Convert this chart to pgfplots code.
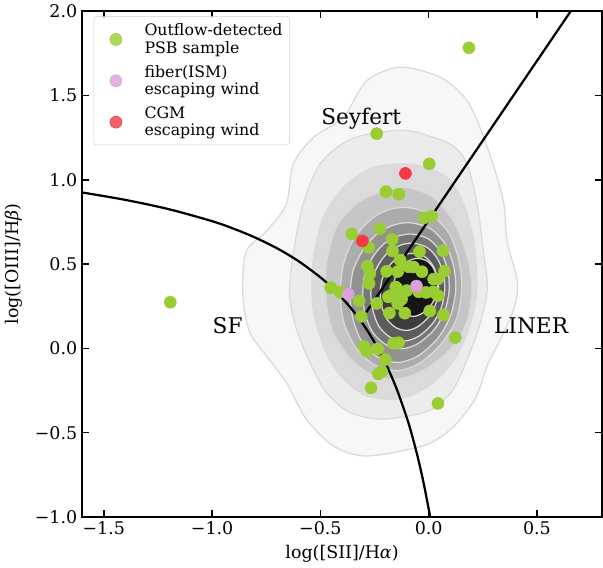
\documentclass[border=0pt]{standalone}
\usepackage{fontspec}
\setmainfont{DejaVu Serif}
\usepackage{pgfplots}
\pgfplotsset{compat=1.18}
\definecolor{cA}{HTML}{F7F7F7}
\definecolor{cB}{HTML}{ECECEC}
\definecolor{cC}{HTML}{DBDBDB}
\definecolor{cD}{HTML}{C6C6C6}
\definecolor{cE}{HTML}{ACACAC}
\definecolor{cF}{HTML}{929292}
\definecolor{cG}{HTML}{777777}
\definecolor{cH}{HTML}{5C5C5C}
\definecolor{cI}{HTML}{3C3C3C}
\definecolor{cJ}{HTML}{151515}
\definecolor{cline}{HTML}{DADADA}
\definecolor{ptgreen}{HTML}{9ACD32}
\definecolor{ptpink}{HTML}{DDA0DD}
\definecolor{ptred}{HTML}{F53A45}
\newcommand{\tl}[1]{\mbox{\fontsize{12.5}{14}\selectfont #1}}
\begin{document}
\begin{tikzpicture}
\begin{axis}[
  scale only axis, width=372.2pt, height=362.2pt,
  xmin=-1.6, xmax=0.8, ymin=-1, ymax=2,
  xtick={-1.5,-1,-0.5,0,0.5},
  xticklabels={\tl{−1.5},\tl{−1.0},\tl{−0.5},\tl{0.0},\tl{0.5}},
  ytick={-1,-0.5,0,0.5,1,1.5,2},
  yticklabels={\tl{−1.0},\tl{−0.5},\tl{0.0},\tl{0.5},\tl{1.0},\tl{1.5},\tl{2.0}},
  tick align=inside, xtick pos=both, ytick pos=both,
  xticklabel pos=lower, yticklabel pos=left,
  major tick length=5pt,
  every tick/.style={black, line width=1.1pt},
  axis line style={line width=1.6pt},
  xlabel={\fontsize{12.5}{14}\selectfont log([SII]/H{\itshape α})},
  ylabel={\fontsize{12.5}{14}\selectfont log([OIII]/H{\itshape β})},
  every axis x label/.style={at={(axis description cs:0.5,-0.0736)}, anchor=center},
  every axis y label/.style={at={(axis description cs:-0.1325,0.5)}, rotate=90, anchor=center},
  legend cell align=left,
  legend image code/.code={%
    \path[draw=none, fill=none] (-0.25cm,0cm) -- (0.85cm,0cm);
    \draw[#1, draw=none] plot coordinates {(0.2cm,0cm)};},
  legend style={at={(axis description cs:0.022,0.99)}, anchor=north west,
    draw=black!18, rounded corners=2pt, fill=white, fill opacity=0.8, text opacity=1,
    font=\fontsize{11.3}{12.6}\selectfont, cells={align=left}, row sep=3pt,
    inner xsep=3pt, inner ysep=3pt},
]
% ---- density contours ----
\addplot[forget plot, fill=cA, draw=cline, line width=0.9pt, smooth cycle] coordinates {
(-0.131,1.668) (0.054,1.608) (0.178,1.469) (0.255,1.250) (0.317,1.012) (0.348,0.853) (0.363,0.634) (0.410,0.395) (0.394,0.237) (0.333,0.058) (0.271,-0.101) (0.215,-0.300) (0.110,-0.470) (-0.020,-0.575) (-0.286,-0.638) (-0.441,-0.578) (-0.565,-0.419) (-0.658,-0.201) (-0.750,-0.042) (-0.827,0.097) (-0.858,0.316) (-0.843,0.574) (-0.750,0.694) (-0.658,0.853) (-0.626,1.091) (-0.534,1.250) (-0.394,1.370) (-0.286,1.588)};
\addplot[forget plot, fill=cB, draw=cline, line width=0.9pt, smooth cycle] coordinates {
(-0.085,1.290) (0.101,1.210) (0.178,1.091) (0.224,0.853) (0.255,0.555) (0.271,0.356) (0.240,0.157) (0.185,-0.042) (0.110,-0.250) (0.000,-0.370) (-0.209,-0.419) (-0.363,-0.380) (-0.472,-0.261) (-0.549,-0.082) (-0.611,0.117) (-0.642,0.316) (-0.626,0.555) (-0.580,0.853) (-0.503,1.091) (-0.379,1.230) (-0.240,1.280)};
\addplot[forget plot, fill=cC, draw=cline, line width=0.9pt, smooth cycle] coordinates {
(-0.070,1.091) (0.084,1.014) (0.162,0.853) (0.209,0.632) (0.223,0.358) (0.195,0.155) (0.130,-0.042) (0.023,-0.203) (-0.130,-0.298) (-0.288,-0.280) (-0.408,-0.161) (-0.487,0.018) (-0.534,0.239) (-0.534,0.513) (-0.487,0.775) (-0.394,0.954) (-0.255,1.073)};
\addplot[forget plot, fill=cD, draw=cline, line width=0.9pt, smooth cycle] coordinates {
(-0.102,0.954) (0.023,0.894) (0.116,0.751) (0.176,0.555) (0.200,0.358) (0.176,0.155) (0.102,0.000) (-0.009,-0.119) (-0.130,-0.179) (-0.255,-0.161) (-0.362,-0.060) (-0.441,0.095) (-0.473,0.274) (-0.473,0.495) (-0.427,0.716) (-0.339,0.853) (-0.223,0.930)};
\addplot[forget plot, fill=cE, draw=cline, line width=0.9pt, smooth cycle] coordinates {
(-0.093,0.835) (0.009,0.793) (0.093,0.686) (0.139,0.525) (0.153,0.358) (0.130,0.179) (0.060,0.030) (-0.037,-0.083) (-0.139,-0.131) (-0.246,-0.101) (-0.334,0.000) (-0.390,0.149) (-0.408,0.316) (-0.394,0.495) (-0.348,0.644) (-0.269,0.763) (-0.186,0.823)};
\addplot[forget plot, fill=cF, draw=cline, line width=0.9pt, smooth cycle] coordinates {
(-0.084,0.745) (0.009,0.710) (0.079,0.614) (0.116,0.483) (0.125,0.346) (0.102,0.197) (0.046,0.066) (-0.046,-0.042) (-0.139,-0.083) (-0.232,-0.054) (-0.306,0.036) (-0.348,0.167) (-0.362,0.316) (-0.348,0.465) (-0.297,0.596) (-0.232,0.686) (-0.158,0.733)};
\addplot[forget plot, fill=cG, draw=cline, line width=0.9pt, smooth cycle] coordinates {
(-0.076,0.678) (0.000,0.649) (0.057,0.570) (0.088,0.463) (0.095,0.350) (0.076,0.228) (0.031,0.120) (-0.045,0.032) (-0.122,-0.002) (-0.198,0.023) (-0.258,0.096) (-0.293,0.203) (-0.304,0.326) (-0.293,0.448) (-0.251,0.556) (-0.198,0.629) (-0.137,0.668)};
\addplot[forget plot, fill=cH, draw=cline, line width=0.9pt, smooth cycle] coordinates {
(-0.072,0.624) (-0.007,0.599) (0.041,0.532) (0.068,0.440) (0.074,0.344) (0.058,0.240) (0.019,0.149) (-0.045,0.073) (-0.111,0.044) (-0.176,0.065) (-0.228,0.128) (-0.256,0.219) (-0.267,0.324) (-0.256,0.428) (-0.220,0.520) (-0.176,0.582) (-0.124,0.615)};
\addplot[forget plot, fill=cI, draw=cline, line width=0.9pt, smooth cycle] coordinates {
(-0.070,0.563) (-0.018,0.544) (0.020,0.491) (0.040,0.418) (0.046,0.343) (0.032,0.261) (0.002,0.189) (-0.049,0.130) (-0.100,0.107) (-0.151,0.123) (-0.192,0.173) (-0.215,0.244) (-0.223,0.327) (-0.215,0.409) (-0.187,0.481) (-0.151,0.530) (-0.111,0.557)};
\addplot[forget plot, fill=cJ, draw=cline, line width=0.9pt, smooth cycle] coordinates {
(-0.046,0.534) (-0.008,0.519) (0.021,0.479) (0.037,0.424) (0.040,0.368) (0.031,0.306) (0.008,0.252) (-0.031,0.207) (-0.069,0.190) (-0.107,0.203) (-0.138,0.239) (-0.155,0.293) (-0.161,0.355) (-0.155,0.418) (-0.135,0.472) (-0.107,0.508) (-0.077,0.528)};
% ---- samples ----
\addplot[only marks, mark=*, mark size=4.3pt, color=ptgreen, mark options={draw=ptgreen, fill=ptgreen}] coordinates {
(0.186,1.783) (-0.240,1.274) (0.003,1.095) (-0.197,0.930) (-0.137,0.915) (-1.193,0.274)
(-0.019,0.775) (0.014,0.784) (-0.355,0.680) (-0.225,0.710) (-0.276,0.599) (-0.168,0.647)
(-0.167,0.578) (-0.042,0.574) (0.066,0.580) (-0.132,0.525) (-0.283,0.489) (-0.271,0.445)
(-0.194,0.457) (-0.143,0.456) (-0.070,0.483) (-0.031,0.455) (0.074,0.458) (0.023,0.411)
(0.042,0.411) (-0.275,0.385) (-0.152,0.364) (-0.452,0.361) (-0.410,0.334) (-0.175,0.314)
(-0.139,0.326) (-0.101,0.343) (-0.012,0.332) (0.021,0.336) (0.043,0.313) (-0.321,0.282)
(-0.240,0.267) (-0.143,0.267) (-0.181,0.210) (-0.110,0.209) (0.005,0.222) (0.068,0.199)
(-0.311,0.190) (0.123,0.064) (-0.299,0.011) (-0.286,-0.016) (-0.235,-0.002) (-0.162,0.030)
(-0.139,0.034) (-0.200,-0.066) (-0.232,-0.151) (-0.217,-0.137) (-0.266,-0.234) (0.043,-0.326)
(-0.147,0.356) (-0.186,0.306) (-0.093,0.485) (-0.125,0.292) (-0.046,0.336)};
\addlegendentry{Outflow-detected\\PSB sample}
\addplot[only marks, mark=*, mark size=4.3pt, color=ptpink, mark options={draw=ptpink, fill=ptpink}] coordinates {
(-0.371,0.322) (-0.056,0.370)};
\addlegendentry{fiber(ISM)\\escaping wind}
\addplot[only marks, mark=*, mark size=4.3pt, color=ptred, mark options={draw=ptred, fill=ptred}] coordinates {
(-0.107,1.038) (-0.306,0.638)};
\addlegendentry{CGM\\escaping wind}
% ---- demarcation lines ----
\addplot[forget plot, black, line width=1.6pt, smooth] coordinates {
(-1.6,0.925) (-1.4,0.881) (-1.2,0.826) (-1.0,0.755) (-0.9,0.710) (-0.8,0.657) (-0.7,0.594)
(-0.6,0.517) (-0.5,0.422) (-0.45,0.365) (-0.4,0.300) (-0.35,0.225) (-0.3,0.139) (-0.25,0.037)
(-0.2,-0.085) (-0.15,-0.232) (-0.1,-0.414) (-0.075,-0.523) (-0.05,-0.646) (-0.025,-0.787)
(0.0,-0.950) (0.007,-1.000)};
\addplot[forget plot, black, line width=1.6pt] coordinates {(-0.3146,0.165) (0.656,2.0)};
\node[font=\fontsize{15.5}{18}\selectfont] at (axis cs:-0.311,1.36) {Seyfert};
\node[font=\fontsize{15.5}{18}\selectfont] at (axis cs:-0.928,0.137) {SF};
\node[font=\fontsize{15.5}{18}\selectfont] at (axis cs:0.473,0.137) {LINER};
\end{axis}
\end{tikzpicture}
\end{document}
